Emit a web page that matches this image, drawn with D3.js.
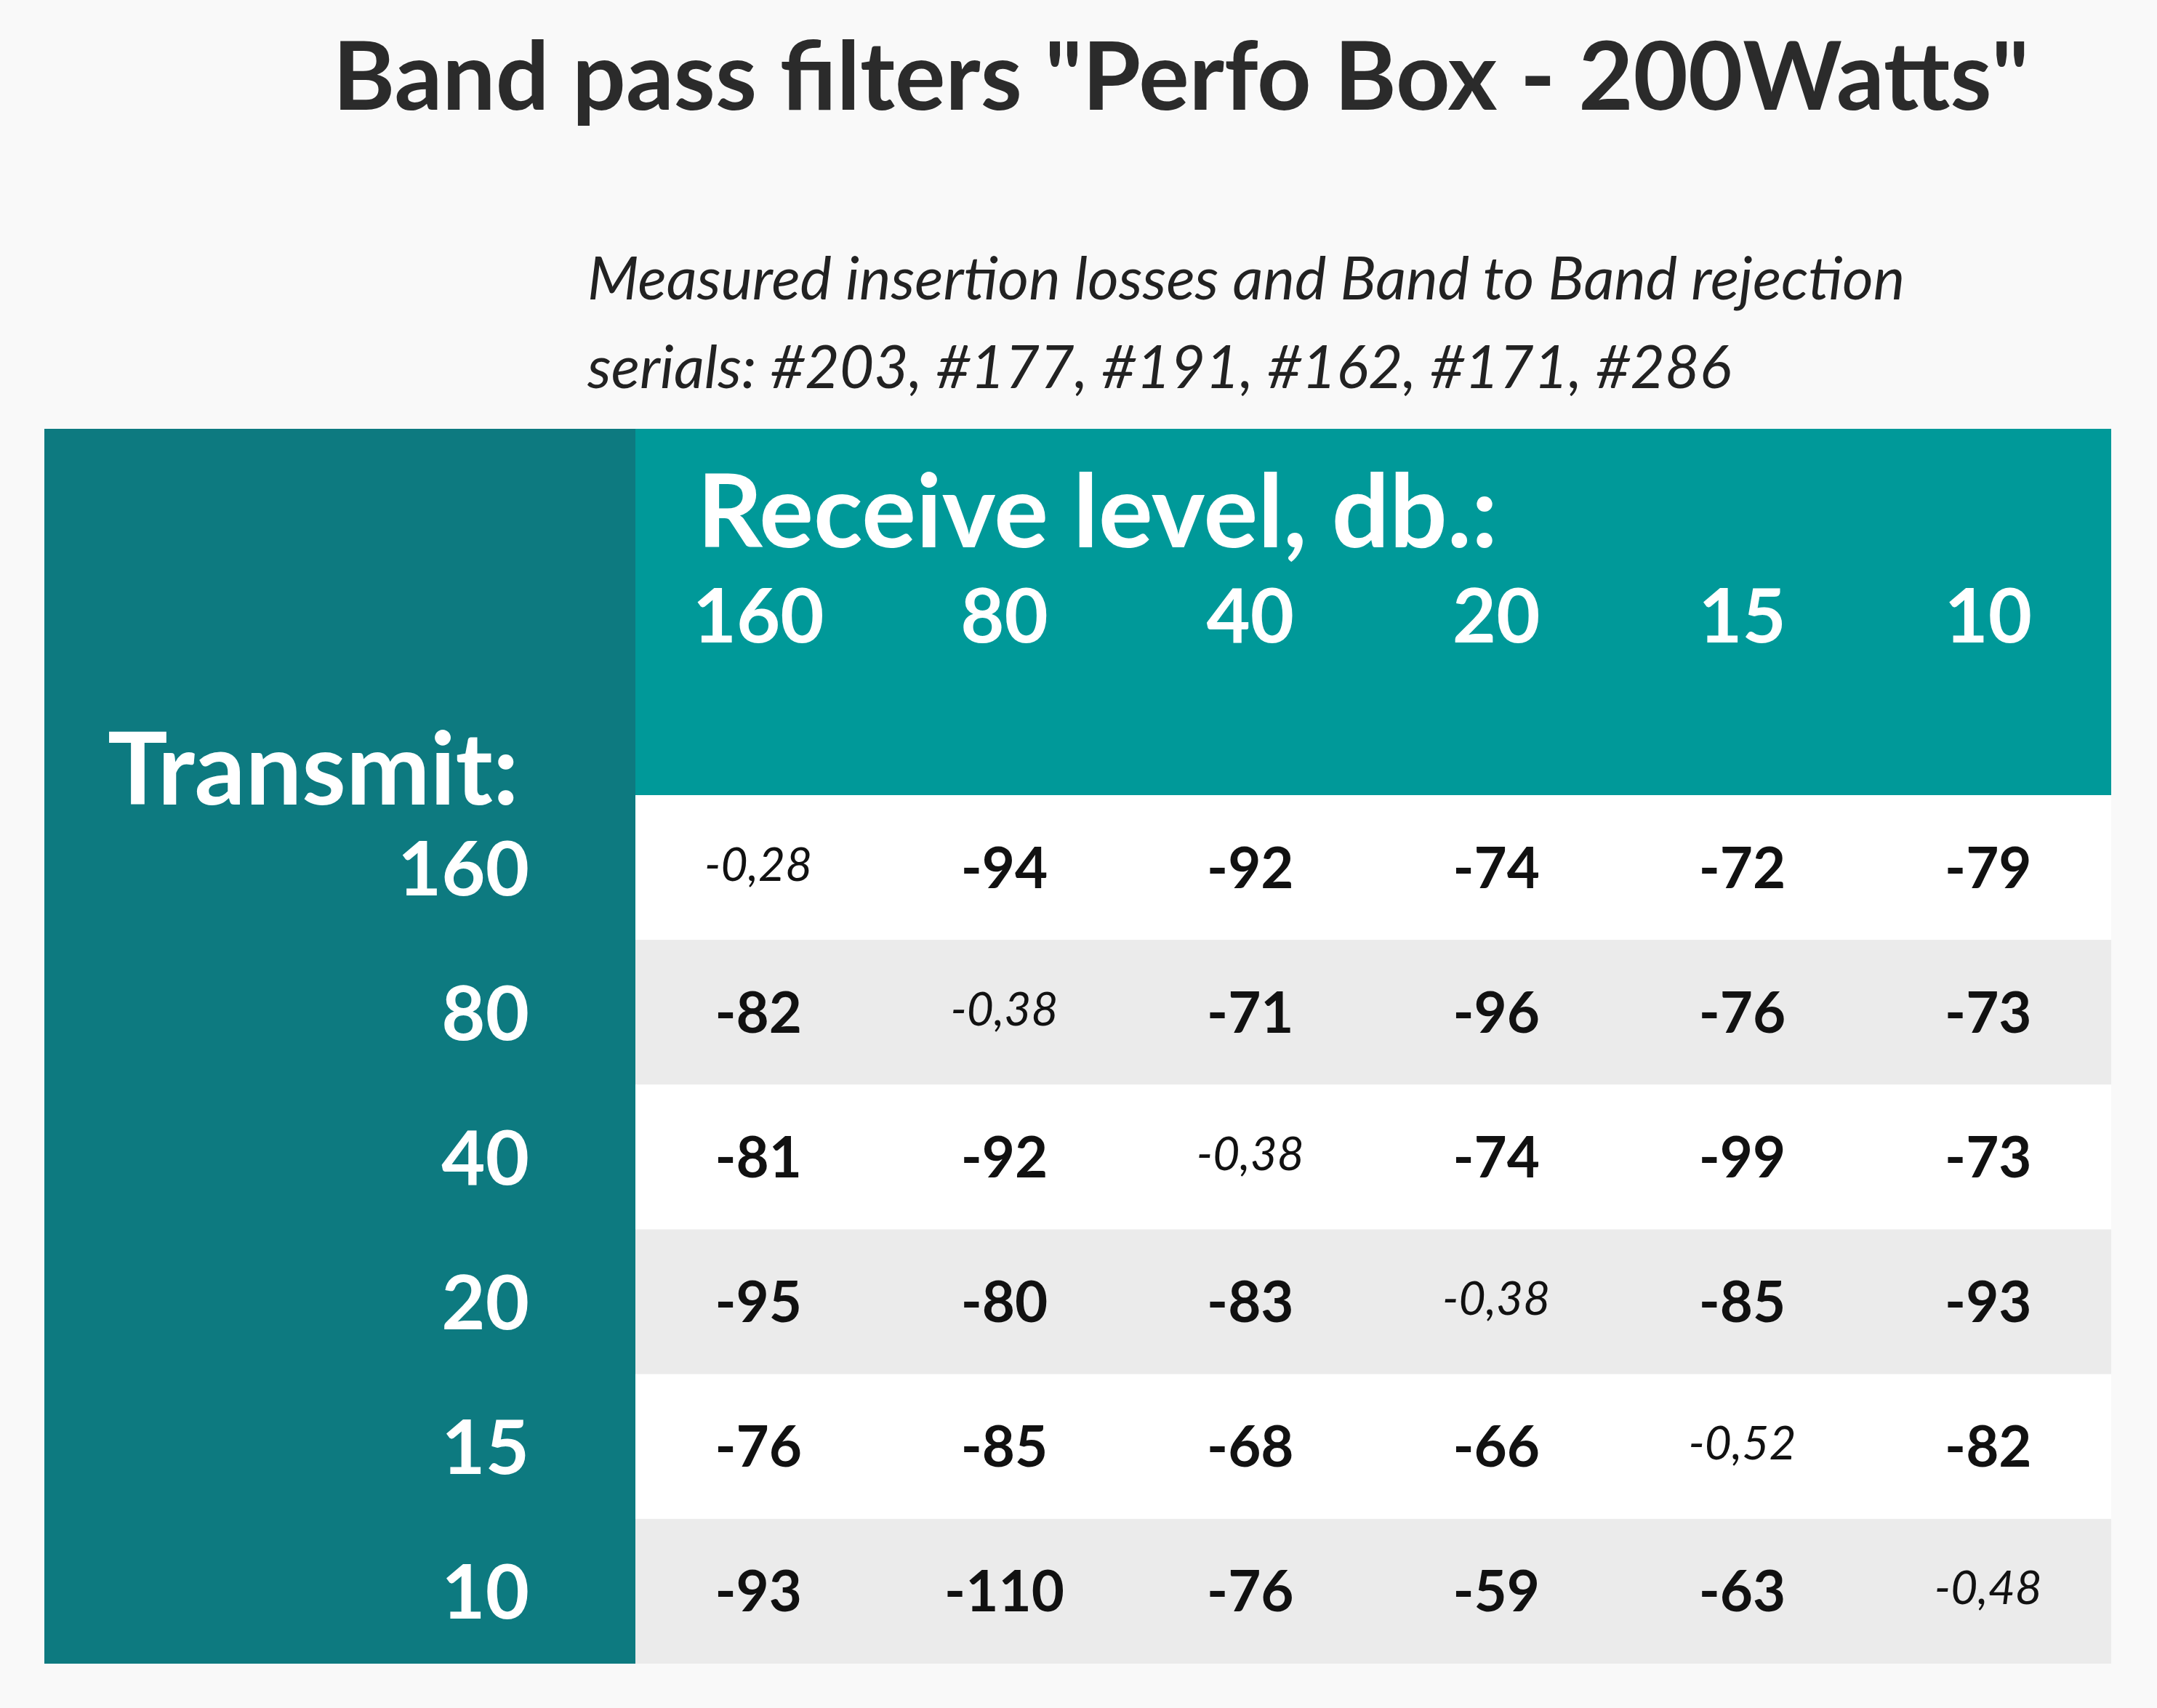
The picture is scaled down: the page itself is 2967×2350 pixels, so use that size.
<!DOCTYPE html>
<html><head><meta charset="utf-8">
<script src="https://cdn.jsdelivr.net/npm/d3@7"></script>
<style>body{margin:0;background:#f9f9f9}svg{display:block}</style>
</head><body><svg id="chart"></svg>
<script>
const bands = ["160", "80", "40", "20", "15", "10"];
const rejection = [
  [-0.28, -94, -92, -74, -72, -79],
  [-82, -0.38, -71, -96, -76, -73],
  [-81, -92, -0.38, -74, -99, -73],
  [-95, -80, -83, -0.38, -85, -93],
  [-76, -85, -68, -66, -0.52, -82],
  [-93, -110, -76, -59, -63, -0.48]
];
const title = 'Band pass filters "Perfo Box - 200Watts"';
const subtitle = ["Measured insertion losses and Band to Band rejection", "serials: #203, #177, #191, #162, #171, #286"];

const W = 2967, H = 2350, font = "Lato, 'Open Sans', sans-serif";
const svg = d3.select("#chart").attr("width", W).attr("height", H).style("font-family", font);
svg.append("rect").attr("width", W).attr("height", H).attr("fill", "#f9f9f9");

const x = d3.scaleBand().domain(bands).range([874, 2904]);
const y = d3.scaleBand().domain(bands).range([1094, 2289]);

svg.append("text").attr("x", 2791).attr("y", 151).attr("text-anchor", "end")
  .attr("font-size", 130).attr("font-weight", 700).attr("fill", "#2b2b2b").text(title);
svg.selectAll(".sub").data(subtitle).enter().append("text")
  .attr("x", 808).attr("y", (d, i) => 412 + i * 122)
  .attr("font-size", 82).attr("font-style", "italic").attr("fill", "#222").text(d => d);

// panels
svg.append("rect").attr("x", 61).attr("y", 590).attr("width", 813).attr("height", 1699).attr("fill", "#0d7a80");
svg.append("rect").attr("x", 874).attr("y", 590).attr("width", 2030).attr("height", 504).attr("fill", "#009999");

svg.selectAll(".row").data(bands).enter().append("rect")
  .attr("x", 874).attr("width", 2030)
  .attr("y", d => y(d)).attr("height", y.bandwidth())
  .attr("fill", (d, i) => i % 2 ? "#ebebeb" : "#ffffff");

svg.append("text").attr("x", 959).attr("y", 753).attr("font-size", 140)
  .attr("font-weight", 700).attr("fill", "#fff").text("Receive level, db.:");
svg.selectAll(".colh").data(bands).enter().append("text")
  .attr("x", d => x(d) + x.bandwidth() / 2).attr("y", 884).attr("text-anchor", "middle")
  .attr("font-size", 104).attr("font-weight", 700).attr("fill", "#fff").text(d => d);

svg.append("text").attr("x", 148).attr("y", 1107).attr("font-size", 138)
  .attr("font-weight", 700).attr("fill", "#fff").text("Transmit:");
svg.selectAll(".rowh").data(bands).enter().append("text")
  .attr("x", 728).attr("y", d => y(d) + y.bandwidth() / 2 + 38).attr("text-anchor", "end")
  .attr("font-size", 104).attr("font-weight", 700).attr("fill", "#fff").text(d => d);

const fmt = v => Number.isInteger(v) ? String(v) : v.toFixed(2).replace(".", ",");
rejection.forEach((row, r) => {
  svg.selectAll(".c" + r).data(row).enter().append("text")
    .attr("x", (d, c) => x(bands[c]) + x.bandwidth() / 2)
    .attr("y", (d, c) => y(bands[r]) + y.bandwidth() / 2 + (r === c ? 18 : 28))
    .attr("text-anchor", "middle")
    .attr("font-size", (d, c) => r === c ? 64 : 78)
    .attr("font-weight", (d, c) => r === c ? 400 : 700)
    .attr("font-style", (d, c) => r === c ? "italic" : "normal")
    .attr("fill", "#111").text(d => fmt(d));
});
</script></body></html>
